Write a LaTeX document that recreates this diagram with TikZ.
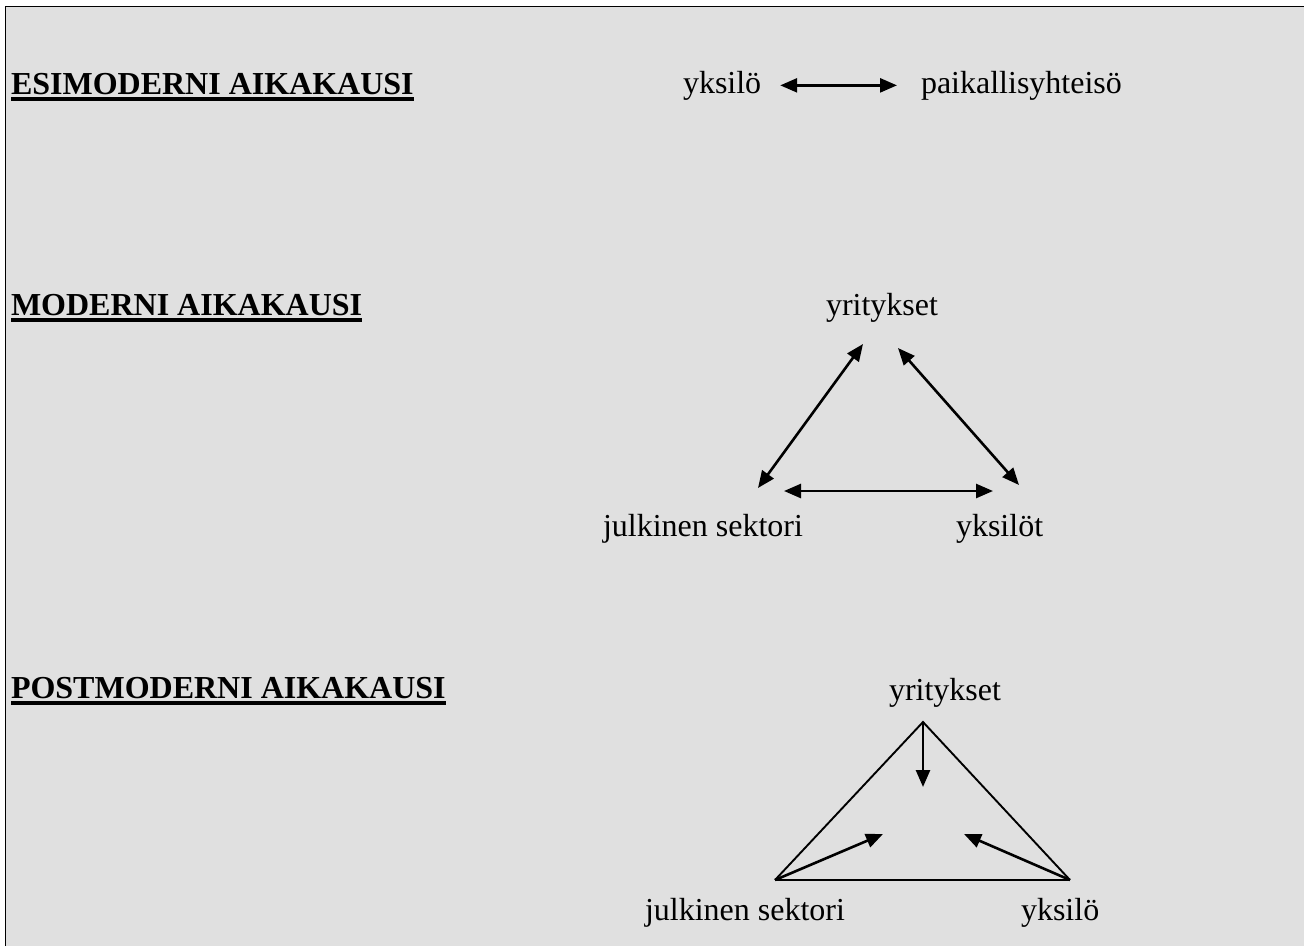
\documentclass[tikz,border=0pt]{standalone}
\usepackage{fontspec}
\setmainfont{Liberation Serif}
\usetikzlibrary{arrows.meta}
\definecolor{bgpage}{RGB}{224,224,224}
\begin{document}
\begin{tikzpicture}[x=1pt,y=-1pt,
  lbl/.style={inner sep=0pt,outer sep=0pt,anchor=base west,font=\fontsize{32}{38}\selectfont},
  hdr/.style={inner sep=0pt,outer sep=0pt,anchor=base west,font=\fontsize{32}{38}\selectfont\bfseries},
  uline/.style={line width=3.8pt},
  tipx/.tip={Triangle[length=17pt,width=14pt]},
  dbl/.style={line width=2.6pt,{tipx}-{tipx}},
  sgl/.style={line width=2.6pt,-{tipx}},
  tri/.style={line width=1.9pt,line join=miter}
]
\useasboundingbox (0,0) rectangle (1304,946);
\fill[white] (0,0) rectangle (1304,946);
\fill[bgpage] (5.5,6.5) rectangle (1304,946);
\draw[line width=1.8pt] (5.5,946) -- (5.5,6.5) -- (1304,6.5);

% headings
\node[hdr] (h1) at (11,94) {ESIMODERNI AIKAKAUSI};
\node[hdr] (h2) at (11,315) {MODERNI AIKAKAUSI\ };
\node[hdr] (h3) at (11,698) {POSTMODERNI AIKAKAUSI};
\foreach \h in {h1,h2,h3}
  \draw[uline] ([yshift=-4.8pt]\h.base west) -- ([yshift=-4.8pt]\h.base east);

% premodern
\node[lbl] (yk1) at (683,93) {yksilö};
\node[lbl] (pk) at (921,93) {paikallisyhteisö};
\draw[dbl,shorten <=19pt,shorten >=24pt] (yk1.east) -- (pk.west);

% modern
\node[lbl] (yr1) at (826,315) {yritykset};
\node[lbl] (js1) at (603,536) {julkinen sektori};
\node[lbl] (ys1) at (956,536) {yksilöt};
\coordinate (mA1) at (758,488);
\coordinate (mA2) at (863,344);
\coordinate (mB1) at (898,348);
\coordinate (mB2) at (1019,485);
\coordinate (mC1) at (784,491);
\coordinate (mC2) at (993,491);
\draw[dbl] (mA1) -- (mA2);
\draw[dbl] (mB1) -- (mB2);
\draw[dbl] (mC1) -- (mC2);

% postmodern
\node[lbl] (yr2) at (889,700) {yritykset};
\node[lbl] (js2) at (645,920) {julkinen sektori};
\node[lbl] (ys2) at (1021,920) {yksilö};
\coordinate (pA) at (923,722);
\coordinate (pL) at (775,880);
\coordinate (pR) at (1070,880);
\coordinate (cT) at (923,787);
\coordinate (cL) at (883,834);
\coordinate (cR) at (964,834);
\draw[tri] (pL) -- (pA) -- (pR);
\draw[line width=2.6pt] (pL) -- (pR);
\draw[sgl] (pA) -- (cT);
\draw[sgl] (pL) -- (cL);
\draw[sgl] (pR) -- (cR);
\end{tikzpicture}
\end{document}
